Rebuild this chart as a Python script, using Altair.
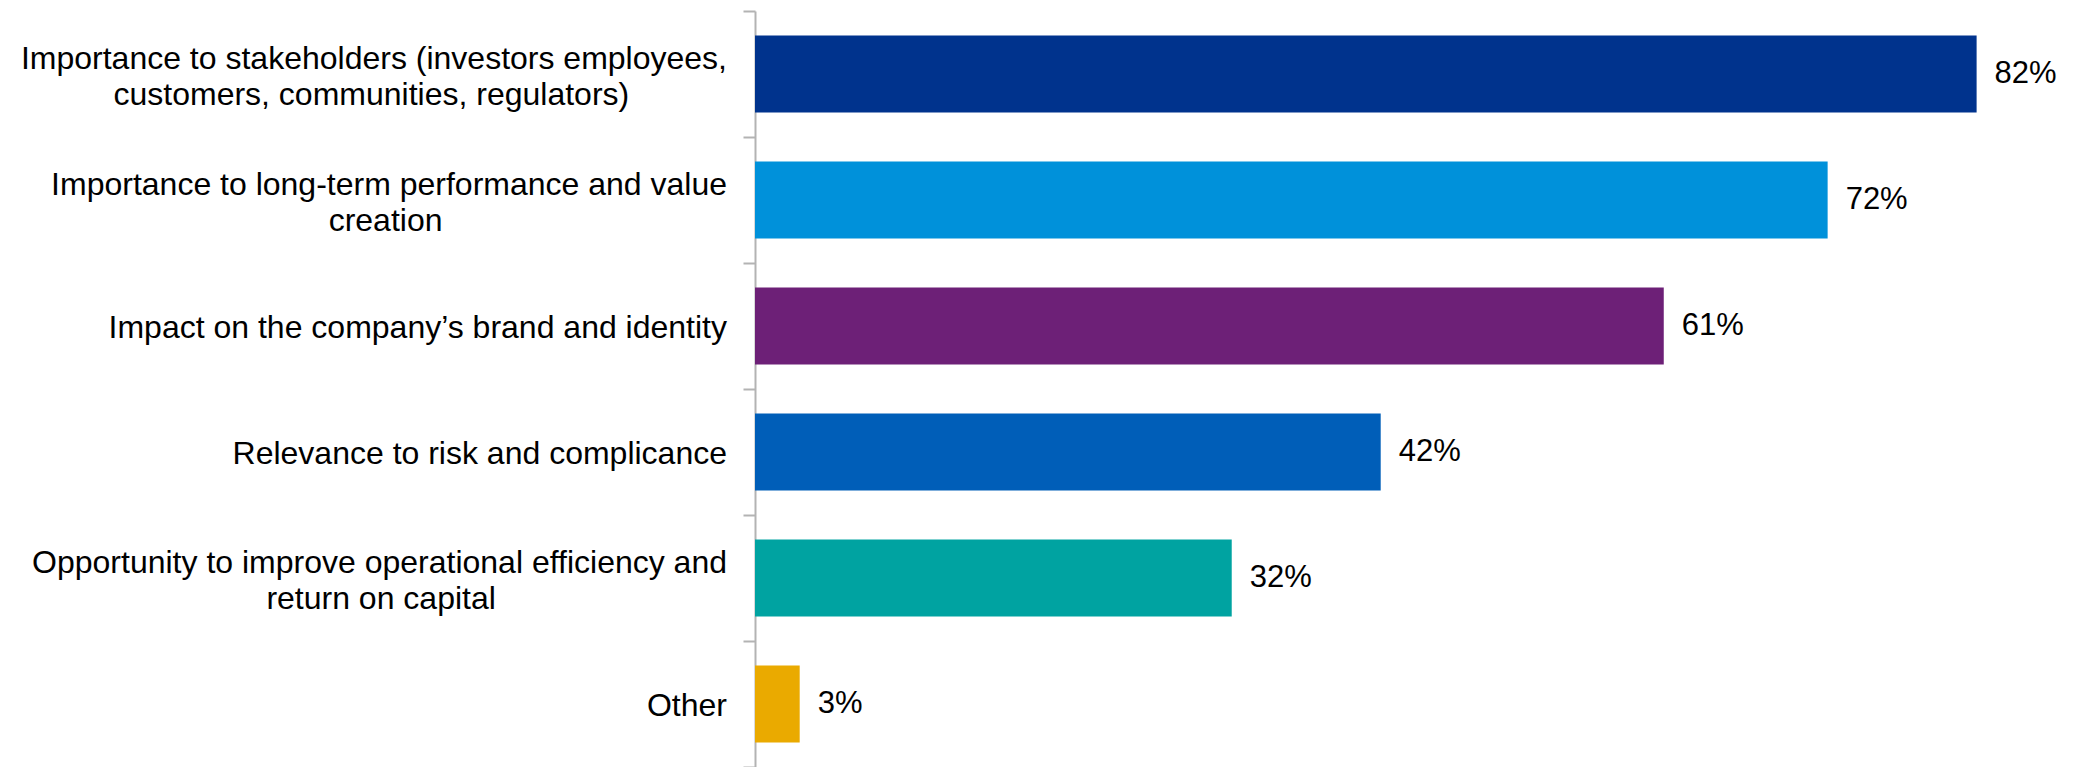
import altair as alt
import pandas as pd

# --- data ---
categories = [
    ["Importance to stakeholders (investors employees,", "customers, communities, regulators)"],
    ["Importance to long-term performance and value", "creation"],
    ["Impact on the company\u2019s brand and identity"],
    ["Relevance to risk and complicance"],
    ["Opportunity to improve operational efficiency and", "return on capital"],
    ["Other"],
]
values = [82, 72, 61, 42, 32, 3]
colors = ["#00338D", "#0091DA", "#6D2077", "#005EB8", "#00A3A1", "#EAAA00"]
value_labels = ["82%", "72%", "61%", "42%", "32%", "3%"]

# layout helper: non-breaking spaces (kept by a trailing zero-width space)
# so the 2nd line sits centred under the 1st in a right-aligned block
center_pad = [11, 32, 0, 0, 26, 0]

keys = []
label_lines = []
for lines, pad in zip(categories, center_pad):
    keys.append(" ".join(lines))
    if len(lines) > 1:
        label_lines.append(lines[0] + "|" + lines[1] + "\u00a0" * pad + "\u200b")
    else:
        label_lines.append(lines[0])

df = pd.DataFrame(
    {
        "key": keys,
        "lbl": label_lines,
        "nlines": [len(c) for c in categories],
        "value": values,
        "color": colors,
        "text": value_labels,
    }
)

FONT = "Liberation Sans"
GREY = "#b3b3b3"

base = alt.Chart(df).encode(
    y=alt.Y(
        "key:N",
        sort=keys,
        scale=alt.Scale(paddingInner=0, paddingOuter=0),
        axis=alt.Axis(
            title=None,
            labels=False,
            tickSize=12,
            tickColor=GREY,
            tickWidth=2,
            domainColor=GREY,
            domainWidth=2,
            tickBand="extent",
        ),
    )
)

bars = base.mark_bar(height={"band": 0.61}).encode(
    x=alt.X("value:Q", scale=alt.Scale(domain=[0, 88], nice=False, zero=True), axis=None),
    color=alt.Color("color:N", scale=None),
)

values_text = base.mark_text(
    align="left", baseline="middle", dx=18, font=FONT, fontSize=31, color="#000000"
).encode(x="value:Q", text="text:N")

label_base = base.transform_calculate(lines="split(datum.lbl, '|')")

cat_one = label_base.transform_filter("datum.nlines == 1").mark_text(
    align="right", baseline="middle", dx=-28, dy=2, font=FONT, fontSize=32,
    lineHeight=36, color="#000000",
).encode(x=alt.value(0), text=alt.Text("lines:N"))

cat_two = label_base.transform_filter("datum.nlines == 2").mark_text(
    align="right", baseline="middle", dx=-28, dy=-15, font=FONT, fontSize=32,
    lineHeight=36, color="#000000",
).encode(x=alt.value(0), text=alt.Text("lines:N"))

chart = (
    alt.layer(bars, values_text, cat_one, cat_two)
    .properties(
        width=1311,
        height=756,
        padding={"left": 755, "top": 11, "right": 0, "bottom": 0},
        autosize=alt.AutoSizeParams(type="none"),
    )
    .configure_view(stroke=None)
)

chart.save("out.html", embed_options={"renderer": "svg", "actions": False})
